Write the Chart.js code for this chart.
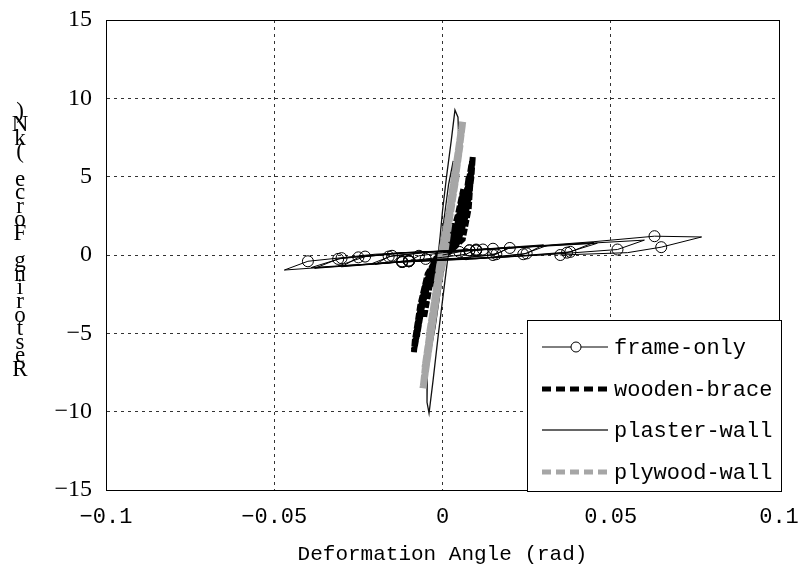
<!DOCTYPE html>
<html>
<head>
<meta charset="utf-8">
<script src="https://cdn.jsdelivr.net/npm/chart.js@4"></script>
<style>
  html, body { margin: 0; padding: 0; background: #fff; }
  #wrap { width: 799px; height: 573px; }
</style>
</head>
<body>
<div id="wrap"><canvas id="myChart" width="799" height="573"></canvas></div>
<script>
// Axis ticks
const xTicks = [-0.1, -0.05, 0, 0.05, 0.1];
const yTicks = [-15, -10, -5, 0, 5, 10, 15];

// Series names
const seriesNames = ['frame-only', 'wooden-brace', 'plaster-wall', 'plywood-wall'];

const frameX = [0, 0.005, 0.010, 0.007, 0, -0.005, -0.010, -0.007, 0,
  0.010, 0.020, 0.016, 0.005, -0.010, -0.020, -0.016, -0.005,
  0.008, 0.020, 0.015, 0.003, -0.012, -0.021, -0.015, -0.004,
  0.010, 0.030, 0.025, 0.012, -0.010, -0.030, -0.025, -0.012,
  0.008, 0.031, 0.024, 0.010, -0.012, -0.031, -0.023, -0.010,
  0.010, 0.045, 0.038, 0.020, -0.010, -0.038, -0.031, -0.015,
  0.012, 0.046, 0.037, 0.018, -0.012, -0.039, -0.030, -0.012,
  0.015, 0.060, 0.052, 0.030, -0.010, -0.047, -0.040, -0.020,
  0.020, 0.045, 0.063, 0.077, 0.065, 0.055, 0.035];
const frameY = [0, 0.20, 0.35, 0.05, -0.15, -0.25, -0.40, -0.05, 0.15,
  0.30, 0.50, 0.05, -0.20, -0.35, -0.60, -0.10, 0.15,
  0.30, 0.45, 0, -0.25, -0.40, -0.55, -0.05, 0.20,
  0.35, 0.65, 0.10, -0.20, -0.40, -0.75, -0.15, 0.15,
  0.30, 0.60, 0.05, -0.25, -0.45, -0.70, -0.10, 0.15,
  0.30, 0.80, 0.20, -0.10, -0.40, -0.85, -0.25, 0.10,
  0.35, 0.75, 0.15, -0.15, -0.45, -0.80, -0.20, 0.15,
  0.40, 0.95, 0.35, 0, -0.40, -0.96, -0.40, 0.05,
  0.45, 0.85, 1.20, 1.15, 0.50, 0.15, 0];

// wooden-brace
const braceX = [0, 0.0015, 0.0035, 0.0028, 0.0010, -0.0012, -0.0030, -0.0024, -0.0008, 0,
  0.0020, 0.0045, 0.0062, 0.0052, 0.0035, 0.0010, -0.0015, -0.0035, -0.0055, -0.0046, -0.0025, 0,
  0.0025, 0.0050, 0.0075, 0.0086, 0.0090, 0.0084, 0.0078, 0.0060, 0.0020,
  -0.0020, -0.0045, -0.0068, -0.0082, -0.0085, -0.0080, -0.0066, -0.0044, -0.0010,
  0.0030, 0.0058, 0.0074, 0.0086, 0.0076, 0.0062, 0.0040,
  -0.0030, -0.0055, -0.0072, -0.0082, -0.0070, -0.0048, -0.0015,
  0.0030, 0.0060, 0.0080, 0.0088, 0.0082, 0.0068, 0.0045, 0.0010,
  -0.0030, -0.0058, -0.0074, -0.0084, -0.0072, -0.0052, -0.0025, 0.0005,
  0.0040, 0.0064, 0.0078, 0.0072, 0.0056, 0.0030, -0.0010,
  -0.0040, -0.0062, -0.0076, -0.0066, -0.0046, -0.0018, 0.0010];
const braceY = [0, 0.6, 2.0, 1.0, 0.2, -0.5, -2.0, -1.0, -0.2, 0,
  0.6, 2.5, 4.2, 2.8, 1.0, 0.2, -0.4, -1.6, -4.0, -2.6, -0.8, 0,
  0.5, 1.6, 3.2, 5.0, 6.27, 5.0, 3.0, 1.0, 0.2,
  -0.6, -2.0, -3.8, -5.4, -6.2, -5.2, -3.2, -1.2, 0,
  0.6, 2.0, 4.0, 5.8, 4.4, 2.4, 0.6,
  -0.8, -2.6, -4.6, -5.8, -4.0, -1.8, 0,
  0.5, 2.0, 4.0, 6.0, 4.6, 2.4, 0.8, 0,
  -0.8, -2.8, -4.8, -6.0, -4.2, -2.0, -0.4, 0.2,
  0.8, 2.8, 5.0, 3.4, 1.5, 0.4, -0.2,
  -1.2, -3.4, -5.2, -3.6, -1.6, -0.2, 0.3];

// plaster-wall
const plasterX = [0, 0.0012, 0.0015, 0.0005, -0.0007, -0.0013, -0.0017, -0.0006, 0.0006,
  0.0015, 0.0028, 0.0032, 0.0018, 0.0004, -0.0009, -0.0022, -0.0034, -0.0036, -0.0022, -0.0006, 0.0010,
  0.0022, 0.0038, 0.0048, 0.0046, 0.0037, 0.0026, 0.0012, 0, -0.0007, -0.0013, -0.0022, -0.0034,
  -0.0045, -0.0046, -0.0040, -0.0028, -0.0012, 0.00075, 0.0017, 0.0025];
const plasterY = [0, 2.0, 3.0, 1.8, 0, -2.0, -3.2, -1.8, 0,
  2.0, 4.5, 6.0, 4.5, 2.2, 0, -2.5, -4.8, -6.2, -4.6, -2.2, 0,
  2.5, 5.2, 7.5, 8.8, 9.25, 7.3, 5.0, 2.8, 1.2, 0, -2.2, -5.0,
  -7.5, -9.4, -10.1, -8.0, -5.0, -1.6, 0, 1.5];

// plywood-wall
const plyX = [0, 0.0012, 0.0020, 0.0010, -0.0004, -0.0012, -0.0019, -0.0009, 0.0004,
  0.0014, 0.0030, 0.0042, 0.0030, 0.0014, -0.0004, -0.0016, -0.0028, -0.0040, -0.0028, -0.0012, 0.0006,
  0.0020, 0.0036, 0.0052, 0.0040, 0.0024, 0.0004, -0.0006, -0.0024, -0.0040, -0.0052, -0.0040, -0.0022, -0.0004, 0.0008,
  0.0026, 0.0044, 0.0060, 0.0050, 0.0032, 0.0012, -0.0006, -0.0026, -0.0044, -0.0058, -0.0048, -0.0030, -0.0010, 0.0004,
  0.0024, 0.0040, 0.0056, 0.0046, 0.0028, 0.0008, -0.0012, -0.0032, -0.0050, -0.0056, -0.0042, -0.0024, -0.0004,
  0.0018, 0.0034, 0.0050, 0.0038, 0.0020, 0.0000, -0.0018, -0.0036, -0.0048, -0.0034, -0.0016, 0];
const plyY = [0, 1.5, 2.6, 1.6, 0, -1.5, -2.6, -1.5, 0,
  1.6, 3.6, 5.2, 3.8, 2.0, 0, -1.8, -3.6, -5.2, -3.8, -1.8, 0,
  2.2, 4.6, 7.0, 5.4, 3.2, 0.6, -0.8, -3.2, -5.4, -7.2, -5.6, -3.0, -0.4, 0.8,
  3.0, 5.8, 8.5, 7.0, 4.4, 1.5, -0.9, -3.8, -6.4, -8.5, -7.0, -4.4, -1.6, 0.4,
  3.0, 5.6, 8.0, 6.4, 3.8, 1.0, -1.4, -4.4, -7.0, -8.2, -6.2, -3.4, -0.6,
  2.4, 4.8, 6.8, 5.0, 2.6, 0.2, -2.2, -4.8, -6.8, -4.8, -2.2, 0];

function toPoints(xs, ys) {
  return xs.map((x, i) => ({ x: x, y: ys[i] }));
}

function fmtTick(v) {
  const n = parseFloat(v.toFixed(2));
  if (n === 0) return '0';
  return n < 0 ? '\u2212' + Math.abs(n) : String(n);
}

// Box round the plot area
const framePlugin = {
  id: 'frame',
  afterDatasetsDraw(chart) {
    const { ctx, chartArea: a } = chart;
    ctx.save();
    ctx.strokeStyle = '#000';
    ctx.lineWidth = 1;
    ctx.strokeRect(a.left + 0.5, a.top + 0.5, a.right - a.left, a.bottom - a.top);
    ctx.restore();
  },
};

// Y title: upright characters stacked from bottom to top
const yTitlePlugin = {
  id: 'yTitle',
  afterDraw(chart) {
    const ctx = chart.ctx;
    const text = 'Restoring Force (kN)';
    ctx.save();
    ctx.fillStyle = '#000';
    ctx.font = '23px "Liberation Serif"';
    ctx.textAlign = 'center';
    ctx.textBaseline = 'middle';
    for (let i = 0; i < text.length; i++) {
      ctx.fillText(text[i], 20, 370 - i * 13.6);
    }
    ctx.restore();
  },
};

// Legend box in the lower right corner
const legendPlugin = {
  id: 'boxLegend',
  afterDraw(chart) {
    const ctx = chart.ctx;
    const rows = [347, 389, 430, 472];
    ctx.save();
    ctx.fillStyle = '#fff';
    ctx.fillRect(527, 320, 254, 171);
    ctx.strokeStyle = '#000';
    ctx.lineWidth = 1;
    ctx.strokeRect(527.5, 320.5, 254, 171);

    seriesNames.forEach((name, i) => {
      const y = rows[i];
      ctx.save();
      ctx.beginPath();
      if (i === 0) {
        ctx.strokeStyle = '#000';
        ctx.lineWidth = 1;
      } else if (i === 1) {
        ctx.strokeStyle = '#000';
        ctx.lineWidth = 5;
        ctx.setLineDash([9, 5]);
      } else if (i === 2) {
        ctx.strokeStyle = '#333';
        ctx.lineWidth = 1.5;
      } else {
        ctx.strokeStyle = '#a6a6a6';
        ctx.lineWidth = 5;
        ctx.setLineDash([9, 5]);
      }
      ctx.moveTo(542, y);
      ctx.lineTo(608, y);
      ctx.stroke();
      ctx.restore();
      if (i === 0) {
        ctx.beginPath();
        ctx.arc(576, y, 5, 0, Math.PI * 2);
        ctx.fillStyle = '#fff';
        ctx.fill();
        ctx.strokeStyle = '#000';
        ctx.lineWidth = 1;
        ctx.stroke();
      }
      ctx.fillStyle = '#000';
      ctx.font = '22px "Liberation Mono"';
      ctx.textAlign = 'left';
      ctx.textBaseline = 'middle';
      ctx.fillText(name, 614, y + 1);
    });
    ctx.restore();
  },
};

const data = {
  datasets: [
    {
      label: seriesNames[0],
      data: toPoints(frameX, frameY),
      borderColor: '#000',
      borderWidth: 1,
      pointStyle: 'circle',
      pointRadius: (c) => (c.dataIndex % 2 === 1 ? 5.5 : 0),
      pointBackgroundColor: 'rgba(255,255,255,0)',
      pointBorderColor: '#000',
      pointBorderWidth: 1,
      order: 0,
    },
    {
      label: seriesNames[1],
      data: toPoints(braceX, braceY),
      borderColor: '#000',
      borderWidth: 6,
      borderDash: [7, 2],
      pointRadius: 0,
      order: 3,
    },
    {
      label: seriesNames[2],
      data: toPoints(plasterX, plasterY),
      borderColor: '#111',
      borderWidth: 1.3,
      pointRadius: 0,
      order: 2,
    },
    {
      label: seriesNames[3],
      data: toPoints(plyX, plyY),
      borderColor: '#a6a6a6',
      borderWidth: 7,
      borderDash: [8, 2],
      pointRadius: 0,
      order: 1,
    },
  ],
};

const config = {
  type: 'scatter',
  data: data,
  options: {
    responsive: false,
    animation: false,
    showLine: true,
    layout: { padding: { top: 20, right: 20, left: 0, bottom: 0 } },
    elements: { line: { tension: 0, fill: false } },
    plugins: {
      legend: { display: false },
      tooltip: { enabled: false },
    },
    scales: {
      x: {
        type: 'linear',
        min: xTicks[0],
        max: xTicks[xTicks.length - 1],
        afterBuildTicks: (s) => { s.ticks = xTicks.map((v) => ({ value: v })); },
        afterFit: (s) => { s.height = 83; s.paddingLeft = 0; s.paddingRight = 0; },
        grid: { color: '#333', lineWidth: 1, drawTicks: false },
        border: { display: true, color: '#000', dash: [3, 4] },
        ticks: {
          padding: 14,
          color: '#000',
          font: { family: '"Liberation Mono"', size: 22 },
          maxRotation: 0,
          callback: fmtTick,
        },
        title: {
          display: true,
          text: 'Deformation Angle (rad)',
          color: '#000',
          font: { family: '"Liberation Mono"', size: 21 },
          padding: { top: 0, bottom: 6 },
        },
      },
      y: {
        type: 'linear',
        min: yTicks[0],
        max: yTicks[yTicks.length - 1],
        afterBuildTicks: (s) => { s.ticks = yTicks.map((v) => ({ value: v })); },
        afterFit: (s) => { s.width = 106; s.paddingTop = 0; s.paddingBottom = 0; },
        grid: { color: '#333', lineWidth: 1, drawTicks: false },
        border: { display: true, color: '#000', dash: [3, 4] },
        ticks: {
          padding: 14,
          color: '#000',
          font: { family: '"Liberation Serif"', size: 24 },
          callback: fmtTick,
        },
      },
    },
  },
  plugins: [framePlugin, yTitlePlugin, legendPlugin],
};

const chart = new Chart(document.getElementById('myChart'), config);
</script>
</body>
</html>
